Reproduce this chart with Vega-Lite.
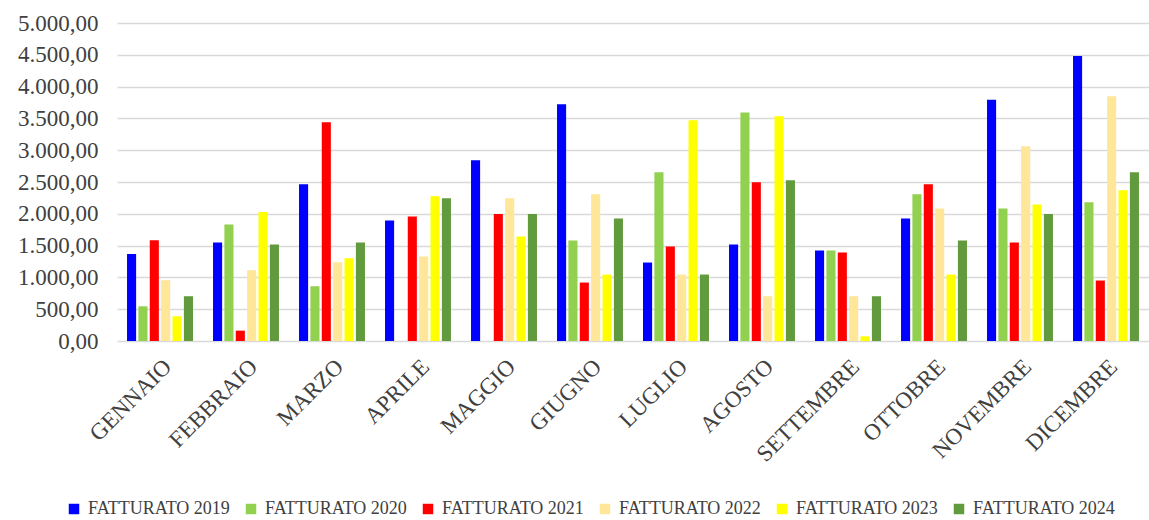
{
  "$schema": "https://vega.github.io/schema/vega-lite/v6.json",
  "autosize": {"type": "none"},
  "padding": {"left": 117, "top": 23, "right": 0, "bottom": 179},
  "width": 1032,
  "height": 318,
  "background": "white",
  "data": {
    "values": [
      {"mese": "GENNAIO", "serie": "FATTURATO 2019", "valore": 1366},
      {"mese": "GENNAIO", "serie": "FATTURATO 2020", "valore": 546},
      {"mese": "GENNAIO", "serie": "FATTURATO 2021", "valore": 1586},
      {"mese": "GENNAIO", "serie": "FATTURATO 2022", "valore": 956},
      {"mese": "GENNAIO", "serie": "FATTURATO 2023", "valore": 389},
      {"mese": "GENNAIO", "serie": "FATTURATO 2024", "valore": 704},
      {"mese": "FEBBRAIO", "serie": "FATTURATO 2019", "valore": 1549},
      {"mese": "FEBBRAIO", "serie": "FATTURATO 2020", "valore": 1833},
      {"mese": "FEBBRAIO", "serie": "FATTURATO 2021", "valore": 163},
      {"mese": "FEBBRAIO", "serie": "FATTURATO 2022", "valore": 1113},
      {"mese": "FEBBRAIO", "serie": "FATTURATO 2023", "valore": 2027},
      {"mese": "FEBBRAIO", "serie": "FATTURATO 2024", "valore": 1518},
      {"mese": "MARZO", "serie": "FATTURATO 2019", "valore": 2463},
      {"mese": "MARZO", "serie": "FATTURATO 2020", "valore": 861},
      {"mese": "MARZO", "serie": "FATTURATO 2021", "valore": 3440},
      {"mese": "MARZO", "serie": "FATTURATO 2022", "valore": 1239},
      {"mese": "MARZO", "serie": "FATTURATO 2023", "valore": 1302},
      {"mese": "MARZO", "serie": "FATTURATO 2024", "valore": 1549},
      {"mese": "APRILE", "serie": "FATTURATO 2019", "valore": 1896},
      {"mese": "APRILE", "serie": "FATTURATO 2021", "valore": 1959},
      {"mese": "APRILE", "serie": "FATTURATO 2022", "valore": 1329},
      {"mese": "APRILE", "serie": "FATTURATO 2023", "valore": 2274},
      {"mese": "APRILE", "serie": "FATTURATO 2024", "valore": 2243},
      {"mese": "MAGGIO", "serie": "FATTURATO 2019", "valore": 2841},
      {"mese": "MAGGIO", "serie": "FATTURATO 2021", "valore": 1996},
      {"mese": "MAGGIO", "serie": "FATTURATO 2022", "valore": 2243},
      {"mese": "MAGGIO", "serie": "FATTURATO 2023", "valore": 1644},
      {"mese": "MAGGIO", "serie": "FATTURATO 2024", "valore": 1996},
      {"mese": "GIUGNO", "serie": "FATTURATO 2019", "valore": 3724},
      {"mese": "GIUGNO", "serie": "FATTURATO 2020", "valore": 1581},
      {"mese": "GIUGNO", "serie": "FATTURATO 2021", "valore": 919},
      {"mese": "GIUGNO", "serie": "FATTURATO 2022", "valore": 2306},
      {"mese": "GIUGNO", "serie": "FATTURATO 2023", "valore": 1045},
      {"mese": "GIUGNO", "serie": "FATTURATO 2024", "valore": 1927},
      {"mese": "LUGLIO", "serie": "FATTURATO 2019", "valore": 1234},
      {"mese": "LUGLIO", "serie": "FATTURATO 2020", "valore": 2652},
      {"mese": "LUGLIO", "serie": "FATTURATO 2021", "valore": 1486},
      {"mese": "LUGLIO", "serie": "FATTURATO 2022", "valore": 1045},
      {"mese": "LUGLIO", "serie": "FATTURATO 2023", "valore": 3472},
      {"mese": "LUGLIO", "serie": "FATTURATO 2024", "valore": 1045},
      {"mese": "AGOSTO", "serie": "FATTURATO 2019", "valore": 1518},
      {"mese": "AGOSTO", "serie": "FATTURATO 2020", "valore": 3592},
      {"mese": "AGOSTO", "serie": "FATTURATO 2021", "valore": 2495},
      {"mese": "AGOSTO", "serie": "FATTURATO 2022", "valore": 704},
      {"mese": "AGOSTO", "serie": "FATTURATO 2023", "valore": 3535},
      {"mese": "AGOSTO", "serie": "FATTURATO 2024", "valore": 2526},
      {"mese": "SETTEMBRE", "serie": "FATTURATO 2019", "valore": 1423},
      {"mese": "SETTEMBRE", "serie": "FATTURATO 2020", "valore": 1423},
      {"mese": "SETTEMBRE", "serie": "FATTURATO 2021", "valore": 1392},
      {"mese": "SETTEMBRE", "serie": "FATTURATO 2022", "valore": 704},
      {"mese": "SETTEMBRE", "serie": "FATTURATO 2023", "valore": 74},
      {"mese": "SETTEMBRE", "serie": "FATTURATO 2024", "valore": 704},
      {"mese": "OTTOBRE", "serie": "FATTURATO 2019", "valore": 1927},
      {"mese": "OTTOBRE", "serie": "FATTURATO 2020", "valore": 2306},
      {"mese": "OTTOBRE", "serie": "FATTURATO 2021", "valore": 2463},
      {"mese": "OTTOBRE", "serie": "FATTURATO 2022", "valore": 2085},
      {"mese": "OTTOBRE", "serie": "FATTURATO 2023", "valore": 1045},
      {"mese": "OTTOBRE", "serie": "FATTURATO 2024", "valore": 1581},
      {"mese": "NOVEMBRE", "serie": "FATTURATO 2019", "valore": 3792},
      {"mese": "NOVEMBRE", "serie": "FATTURATO 2020", "valore": 2085},
      {"mese": "NOVEMBRE", "serie": "FATTURATO 2021", "valore": 1549},
      {"mese": "NOVEMBRE", "serie": "FATTURATO 2022", "valore": 3062},
      {"mese": "NOVEMBRE", "serie": "FATTURATO 2023", "valore": 2148},
      {"mese": "NOVEMBRE", "serie": "FATTURATO 2024", "valore": 1996},
      {"mese": "DICEMBRE", "serie": "FATTURATO 2019", "valore": 4480},
      {"mese": "DICEMBRE", "serie": "FATTURATO 2020", "valore": 2180},
      {"mese": "DICEMBRE", "serie": "FATTURATO 2021", "valore": 951},
      {"mese": "DICEMBRE", "serie": "FATTURATO 2022", "valore": 3850},
      {"mese": "DICEMBRE", "serie": "FATTURATO 2023", "valore": 2369},
      {"mese": "DICEMBRE", "serie": "FATTURATO 2024", "valore": 2652}
    ]
  },
  "mark": {"type": "bar"},
  "encoding": {
    "x": {
      "field": "mese",
      "type": "nominal",
      "sort": null,
      "scale": {"paddingInner": 0.233, "paddingOuter": 0.1165},
      "axis": {
        "title": null,
        "domain": false,
        "ticks": false,
        "labelAngle": -45,
        "labelFont": "Liberation Serif",
        "labelFontSize": 23,
        "labelColor": "#404040",
        "labelPadding": 14
      }
    },
    "xOffset": {
      "field": "serie",
      "type": "nominal",
      "scale": {"paddingInner": 0.2, "paddingOuter": 0}
    },
    "y": {
      "field": "valore",
      "type": "quantitative",
      "scale": {"domain": [0, 5000], "nice": false},
      "axis": {
        "title": null,
        "domain": false,
        "ticks": false,
        "values": [0, 500, 1000, 1500, 2000, 2500, 3000, 3500, 4000, 4500, 5000],
        "labelOverlap": false,
        "labelExpr": "replace(replace(replace(format(datum.value, ',.2f'), ',', '_'), '.', ','), '_', '.')",
        "labelFont": "Liberation Serif",
        "labelFontSize": 23,
        "labelColor": "#404040",
        "labelPadding": 19,
        "grid": true,
        "gridColor": "#d9d9d9",
        "gridWidth": 1.5
      }
    },
    "color": {
      "field": "serie",
      "type": "nominal",
      "scale": {
        "domain": ["FATTURATO 2019", "FATTURATO 2020", "FATTURATO 2021", "FATTURATO 2022", "FATTURATO 2023", "FATTURATO 2024"],
        "range": ["#0000FF", "#92D050", "#FF0000", "#FFE699", "#FFFF00", "#629B3E"]
      },
      "legend": {
        "title": null,
        "orient": "none",
        "direction": "horizontal",
        "legendX": -52,
        "legendY": 477,
        "symbolType": "square",
        "symbolSize": 110,
        "symbolStrokeWidth": 0,
        "labelFont": "Liberation Serif",
        "labelFontSize": 18,
        "labelColor": "#404040",
        "labelOffset": 5,
        "labelLimit": 300,
        "columnPadding": 12
      }
    }
  },
  "config": {
    "font": "Liberation Serif",
    "view": {"stroke": null}
  }
}
